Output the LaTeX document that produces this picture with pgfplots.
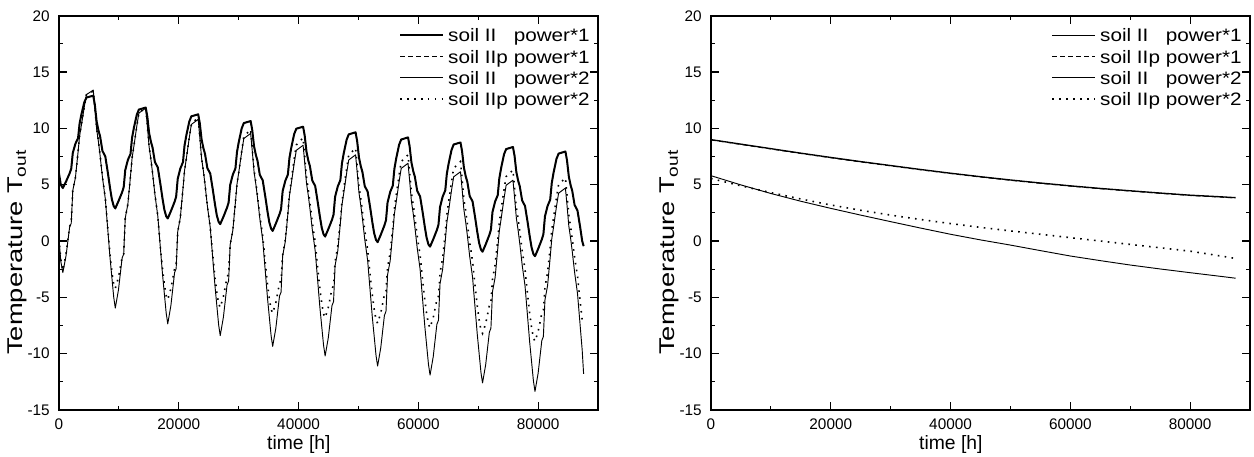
\documentclass[border=0pt]{standalone}
\usepackage{fontspec}
\setmainfont{Liberation Sans}
\usepackage{graphicx}
\usepackage{pgfplots}
\usepackage{pgfplotstable}
\pgfplotsset{compat=1.18}

\newcommand{\tfont}{\fontsize{11.5}{13}\selectfont}
\newcommand{\xfont}{\fontsize{14.5}{17}\selectfont}
\newcommand{\lstrut}{\rule[-3.8pt]{0pt}{15pt}}
\newcommand{\lent}[1]{\lstrut\scalebox{1.15}[1]{\fontsize{13.5}{16}\selectfont #1}}

% left panel: time, soil II power*1 (soil IIp power*1 overlaps it), soil II power*2, soil IIp power*2
\pgfplotstableread{
t c1 c3 c4
0 6.0 0.2 0.2
300 5.0 -1.8 -1.6
640 4.7 -2.8 -2.6
1166 5.27 -1.34 -1.2
1779 6.01 1.25 1.3
2042 6.42 1.57 1.6
2304 7.82 4.49 4.5
2742 8.64 5.62 5.65
3180 9.13 7.89 7.9
3443 10.44 9.35 9.35
3750 11.26 10.32 10.35
4232 12.33 11.94 11.95
4582 12.74 13.0 13.0
5721 12.9 13.4 13.3
5984 12.1 11.85 11.85
6290 10.6 9.92 9.95
6597 9.8 8.76 8.8
6860 9.3 7.6 7.65
7254 8.0 5.66 5.7
7736 7.5 3.73 3.8
8174 6.0 0.82 0.95
8524 4.7 -1.5 -1.2
8831 3.7 -3.24 -2.75
9137 3.1 -4.98 -3.85
9400 2.9 -5.95 -4.2
9926 3.53 -4.35 -3.24
10539 4.33 -1.51 -1.47
10802 4.78 -1.16 -1.15
11064 6.30 2.04 2.04
11502 7.20 3.28 3.28
11940 7.73 5.77 5.77
12203 9.17 7.36 7.36
12510 10.06 8.43 8.43
12992 11.22 10.2 10.2
13342 11.67 11.36 11.36
14481 11.85 11.8 11.85
14744 11.06 10.27 10.27
15050 9.58 8.35 8.35
15357 8.80 7.2 7.2
15620 8.30 6.06 6.06
16014 7.02 4.14 4.14
16496 6.53 2.23 2.23
16934 5.05 -0.65 -0.6
17284 3.77 -2.95 -2.47
17591 2.79 -4.67 -3.84
17897 2.2 -6.39 -4.86
18160 2.0 -7.35 -5.2
18686 2.65 -5.72 -4.23
19299 3.48 -2.81 -2.45
19562 3.94 -2.45 -2.12
19824 5.52 0.82 0.82
20262 6.44 2.09 2.09
20700 7.0 4.63 4.63
20963 8.48 6.26 6.26
21270 9.4 7.35 7.35
21752 10.6 9.17 9.17
22102 11.07 10.35 10.35
23241 11.25 10.8 11.0
23504 10.47 9.26 9.31
23810 9.01 7.34 7.34
24117 8.23 6.19 6.19
24380 7.74 5.04 5.04
24774 6.47 3.12 3.12
25256 5.99 1.2 1.2
25694 4.52 -1.68 -1.34
26044 3.26 -3.98 -3.2
26351 2.28 -5.71 -4.55
26657 1.7 -7.44 -5.56
26920 1.5 -8.4 -5.9
27446 2.14 -6.78 -4.95
28059 2.96 -3.91 -3.21
28322 3.42 -3.55 -2.9
28584 4.98 -0.32 -0.32
29022 5.89 0.93 0.93
29460 6.44 3.45 3.45
29723 7.91 5.06 5.06
30030 8.82 6.14 6.14
30512 10.01 7.93 8.0
30862 10.47 9.1 9.27
32001 10.65 9.55 9.9
32264 9.87 8.04 8.27
32570 8.41 6.15 6.31
32877 7.63 5.01 5.17
33140 7.14 3.88 4.03
33534 5.87 1.99 2.24
34016 5.39 0.1 0.45
34454 3.92 -2.73 -2.0
34804 2.66 -5.0 -3.79
35111 1.68 -6.7 -5.1
35417 1.1 -8.4 -6.07
35680 0.9 -9.35 -6.4
36206 1.55 -7.74 -5.47
36819 2.38 -4.89 -3.76
37082 2.84 -4.53 -3.45
37344 4.42 -1.32 -1.27
37782 5.34 -0.07 0.13
38220 5.9 2.43 2.46
38483 7.38 4.04 4.17
38790 8.3 5.11 5.42
39272 9.5 6.89 7.28
39622 9.97 8.05 8.53
40761 10.15 8.5 9.15
41024 9.37 7.0 7.56
41330 7.91 5.13 5.64
41637 7.13 4.01 4.52
41900 6.64 2.89 3.41
42294 5.37 1.02 1.65
42776 4.89 -0.85 -0.1
43214 3.42 -3.65 -2.49
43564 2.16 -5.9 -4.25
43871 1.18 -7.58 -5.52
44177 0.6 -9.26 -6.48
44440 0.4 -10.2 -6.8
44966 1.05 -8.59 -5.9
45579 1.88 -5.74 -4.24
45842 2.34 -5.38 -3.94
46104 3.92 -2.17 -1.83
46542 4.84 -0.92 -0.48
46980 5.4 1.58 1.78
47243 6.88 3.19 3.43
47550 7.8 4.26 4.64
48032 9.0 6.04 6.44
48382 9.47 7.2 7.65
49521 9.65 7.65 8.25
49784 8.87 6.15 6.7
50090 7.41 4.28 4.83
50397 6.63 3.15 3.74
50660 6.14 2.03 2.65
51054 4.87 0.15 0.94
51536 4.39 -1.72 -0.77
51974 2.92 -4.54 -3.1
52324 1.66 -6.79 -4.81
52631 0.68 -8.47 -6.06
52937 0.1 -10.16 -6.99
53200 -0.1 -11.1 -7.3
53726 0.55 -9.48 -6.4
54339 1.39 -6.6 -4.76
54602 1.85 -6.24 -4.46
54864 3.43 -3.0 -2.37
55302 4.36 -1.74 -1.02
55740 4.92 0.78 1.22
56003 6.41 2.4 2.87
56310 7.34 3.48 4.06
56792 8.55 5.28 5.86
57142 9.01 6.45 7.05
58281 9.2 6.9 7.65
58544 8.42 5.4 6.12
58850 6.97 3.52 4.27
59157 6.19 2.39 3.2
59420 5.71 1.26 2.12
59814 4.45 -0.62 0.44
60296 3.96 -2.5 -1.25
60734 2.51 -5.32 -3.56
61084 1.25 -7.58 -5.24
61391 0.28 -9.27 -6.47
61697 -0.31 -10.96 -7.39
61960 -0.5 -11.9 -7.7
62486 0.15 -10.28 -6.81
63099 0.98 -7.39 -5.19
63362 1.44 -7.03 -4.9
63624 3.02 -3.78 -2.83
64062 3.94 -2.51 -1.5
64500 4.5 0.01 0.71
64763 5.98 1.64 2.33
65070 6.9 2.72 3.51
65552 8.1 4.53 5.28
65902 8.57 5.7 6.46
67041 8.75 6.15 7.05
67304 7.97 4.65 5.53
67610 6.52 2.78 3.7
67917 5.74 1.65 2.63
68180 5.26 0.53 1.56
68574 4.0 -1.35 -0.12
69056 3.51 -3.22 -1.79
69494 2.06 -6.04 -4.08
69844 0.8 -8.29 -5.76
70151 -0.17 -9.97 -6.98
70457 -0.76 -11.66 -7.89
70720 -0.95 -12.6 -8.2
71246 -0.3 -10.98 -7.33
71859 0.54 -8.1 -5.73
72122 1.0 -7.74 -5.44
72384 2.58 -4.5 -3.41
72822 3.51 -3.24 -2.11
73260 4.07 -0.72 0.07
73523 5.56 0.9 1.66
73830 6.49 1.98 2.82
74312 7.7 3.78 4.56
74662 8.16 4.95 5.72
75801 8.35 5.4 6.3
76064 7.57 3.9 4.78
76370 6.12 2.03 2.96
76677 5.34 0.9 1.89
76940 4.86 -0.22 0.83
77334 3.6 -2.1 -0.84
77816 3.11 -3.97 -2.52
78254 1.66 -6.79 -4.8
78604 0.4 -9.04 -6.47
78911 -0.57 -10.72 -7.68
79217 -1.16 -12.41 -8.6
79480 -1.35 -13.35 -8.9
80006 -0.7 -11.73 -8.03
80619 0.14 -8.84 -6.43
80882 0.6 -8.48 -6.14
81144 2.18 -5.23 -4.11
81582 3.11 -3.96 -2.81
82020 3.67 -1.44 -0.63
82283 5.16 0.19 0.96
82590 6.09 1.27 2.12
83072 7.3 3.08 3.86
83422 7.76 4.25 5.02
84561 7.95 4.7 5.6
84824 7.17 3.2 4.1
85130 5.72 1.33 2.3
85437 4.94 0.21 1.25
85700 4.46 -0.91 0.2
86094 3.2 -2.78 -1.45
86576 2.71 -4.65 -3.1
87014 1.26 -7.45 -5.35
87364 0.0 -9.7 -7.0
87600 -0.45 -11.8 -7.3
}\leftdata

% right panel
\pgfplotstableread{
t a b c d
0 9.0 8.97 5.8 5.55
5000 8.6 8.57 4.98 4.9
10000 8.2 8.17 4.22 4.3
15000 7.8 7.77 3.53 3.73
20000 7.42 7.39 2.9 3.2
25000 7.05 7.02 2.3 2.73
30000 6.7 6.67 1.72 2.3
35000 6.35 6.32 1.15 1.91
40000 6.02 5.99 0.6 1.55
45000 5.71 5.68 0.1 1.21
50000 5.42 5.39 -0.36 0.9
55000 5.15 5.12 -0.85 0.6
60000 4.9 4.87 -1.33 0.3
65000 4.67 4.64 -1.74 0.0
70000 4.46 4.43 -2.13 -0.3
75000 4.26 4.23 -2.48 -0.6
80000 4.07 4.04 -2.81 -0.9
85000 3.93 3.9 -3.13 -1.32
87600 3.85 3.82 -3.3 -1.55
}\rightdata

\pgfplotsset{
  myaxis/.style={
    scale only axis, width=404.25pt, height=295.7pt,
    xmin=0, xmax=90000, ymin=-15, ymax=20,
    scaled x ticks=false,
    xtick={0,20000,40000,60000,80000},
    xticklabels={\tfont 0,\tfont 20000,\tfont 40000,\tfont 60000,\tfont 80000},
    minor x tick num=1,
    ytick={-15,-10,-5,0,5,10,15,20},
    yticklabels={\tfont -15,\tfont -10,\tfont -5,\tfont 0,\tfont 5,\tfont 10,\tfont 15,\tfont 20},
    minor y tick num=1,
    tick align=inside, tick pos=both,
    major tick length=6pt, minor tick length=3pt,
    every tick/.style={black, line width=0.9pt},
    axis line style={line width=1.2pt},
    xticklabel style={inner sep=0pt, yshift=-6.75pt},
    yticklabel style={inner sep=0pt, xshift=-6.75pt},
    xlabel={\xfont time [h]},
    xlabel style={at={(axis description cs:0.445,-0.1)}, anchor=base},
    ylabel={\fontsize{16}{18}\selectfont\scalebox{1.28}[1]{Temperature T\textsubscript{out}}},
    ylabel style={at={(axis description cs:-0.0776,0.40)}, anchor=center},
    legend cell align=left,
    legend style={draw=none, fill=none, at={(axis description cs:1,1)},
      anchor=north east, xshift=-5.2pt, yshift=-7.3pt, inner sep=0pt,
      row sep=1.7pt, nodes={inner sep=0.8pt}},
    legend image code/.code={\draw[##1] (0pt,0pt) -- (32pt,0pt); \path (34.5pt,0pt);},
  }
}

\begin{document}
\begin{tikzpicture}[x=1pt,y=1pt]
\path[use as bounding box] (0,0) rectangle (940.5,342.75);

\begin{axis}[myaxis, at={(44.25pt,35.25pt)}, anchor=south west]
\addplot[black, line width=1.5pt, line join=round] table[x=t,y=c1]{\leftdata};
\addplot[black, line width=0.7pt, dash pattern=on 3.5pt off 2.5pt] table[x=t,y=c1]{\leftdata};
\addplot[black, line width=0.7pt, line join=round] table[x=t,y=c3]{\leftdata};
\addplot[black, line width=1.2pt, dash pattern=on 1.2pt off 4pt] table[x=t,y=c4]{\leftdata};
\legend{\lent{soil II\phantom{p} power*1}, \lent{soil IIp power*1}, \lent{soil II\phantom{p} power*2}, \lent{soil IIp power*2}}
\end{axis}

\begin{axis}[myaxis, at={(533.25pt,35.25pt)}, anchor=south west]
\addplot[black, line width=1.0pt] table[x=t,y=a]{\rightdata};
\addplot[black, line width=0.7pt, dash pattern=on 3.5pt off 2.5pt] table[x=t,y=b]{\rightdata};
\addplot[black, line width=0.7pt] table[x=t,y=c]{\rightdata};
\addplot[black, line width=1.2pt, dash pattern=on 1.2pt off 4pt] table[x=t,y=d]{\rightdata};
\legend{\lent{soil II\phantom{p} power*1}, \lent{soil IIp power*1}, \lent{soil II\phantom{p} power*2}, \lent{soil IIp power*2}}
\end{axis}
\end{tikzpicture}
\end{document}
